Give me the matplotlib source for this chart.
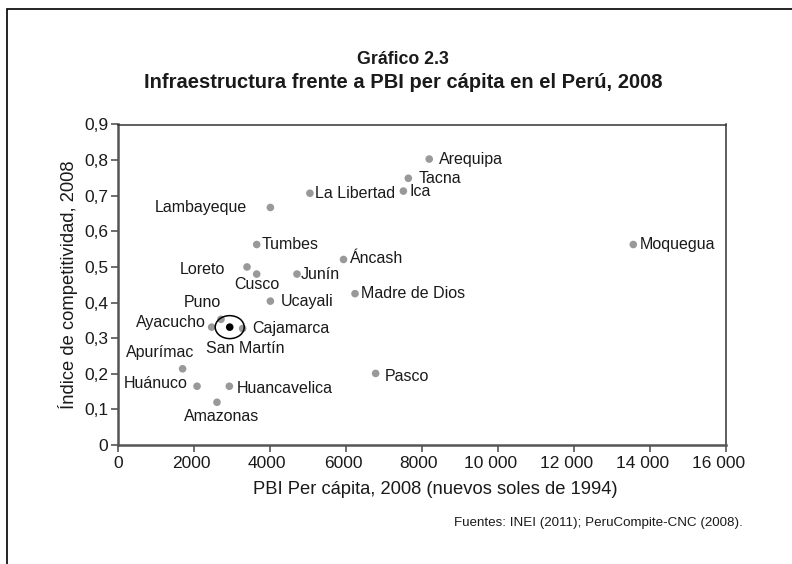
import matplotlib
matplotlib.use("Agg")
import matplotlib.pyplot as plt
from matplotlib.patches import Ellipse, Rectangle
from matplotlib.ticker import FixedLocator, FuncFormatter
from matplotlib.transforms import ScaledTranslation

plt.rcParams['font.family'] = ['Liberation Sans', 'DejaVu Sans']

# ---- data ----
regions = ["Arequipa", "Tacna", "Ica", "La Libertad", "Lambayeque", "Tumbes",
           "Áncash", "Moquegua", "Loreto", "Cusco", "Junín", "Madre de Dios",
           "Ucayali", "Puno", "Ayacucho", "San Martín", "Cajamarca", "Apurímac",
           "Huánuco", "Huancavelica", "Amazonas", "Pasco"]
pbi_pc = [8190, 7640, 7510, 5050, 4010, 3650,
          5935, 13560, 3395, 3650, 4710, 6237,
          4010, 2710, 2465, 2940, 3280, 1700,
          2080, 2930, 2605, 6780]
competitividad = [0.803, 0.749, 0.713, 0.707, 0.667, 0.563,
                  0.521, 0.563, 0.500, 0.480, 0.480, 0.425,
                  0.404, 0.353, 0.331, 0.331, 0.327, 0.214,
                  0.165, 0.165, 0.120, 0.201]
highlight = "San Martín"

x_ticks = [0, 2000, 4000, 6000, 8000, 10000, 12000, 14000, 16000]
y_ticks = [0, 0.1, 0.2, 0.3, 0.4, 0.5, 0.6, 0.7, 0.8, 0.9]

title_1 = "Gráfico 2.3"
title_2 = "Infraestructura frente a PBI per cápita en el Perú, 2008"
x_label = "PBI Per cápita, 2008 (nuevos soles de 1994)"
y_label = "Índice de competitividad, 2008"
source = "Fuentes: INEI (2011); PeruCompite-CNC (2008)."

# label placement (pixel offsets, alignment) -- styling only
label_pos = {
    "Arequipa": (10, 0, "left", "center"),
    "Tacna": (10, 0, "left", "center"),
    "Ica": (6, 0, "left", "center"),
    "La Libertad": (5, 0, "left", "center"),
    "Lambayeque": (-23, 0, "right", "center"),
    "Tumbes": (5, 0, "left", "center"),
    "Áncash": (6, 1, "left", "center"),
    "Moquegua": (6, 0, "left", "center"),
    "Loreto": (-22, -3, "right", "center"),
    "Cusco": (0, -10, "center", "center"),
    "Junín": (4, 0, "left", "center"),
    "Madre de Dios": (6, 0, "left", "center"),
    "Ucayali": (10, 0, "left", "center"),
    "Puno": (0, 17, "right", "center"),
    "Ayacucho": (-6, 5, "right", "center"),
    "San Martín": (16, -21, "center", "center"),
    "Cajamarca": (10, 0, "left", "center"),
    "Apurímac": (12, 16, "right", "center"),
    "Huánuco": (-9, 3, "right", "center"),
    "Huancavelica": (7, -2, "left", "center"),
    "Amazonas": (5, -14, "center", "center"),
    "Pasco": (9, -3, "left", "center"),
}

W, H = 792, 564
fig = plt.figure(figsize=(W / 100, H / 100), dpi=100)
fig.patch.set_facecolor("white")

# outer frame (partially visible)
fig.add_artist(Rectangle((6.5 / W, -0.2), 1.5, 1 + 0.2 - 9 / H,
                         transform=fig.transFigure, fill=False,
                         edgecolor="black", linewidth=1.2))

ax = fig.add_axes([118 / W, 1 - 445 / H, (726 - 118) / W, (445 - 124.5) / H])

txt_color = "#1a1a1a"
colors = ["black" if r == highlight else "#999999" for r in regions]
ax.scatter(pbi_pc, competitividad, s=30, c=colors, edgecolors="none", zorder=3)

for r, x, y in zip(regions, pbi_pc, competitividad):
    dx, dy, ha, va = label_pos[r]
    ax.annotate(r, (x, y), xytext=(dx, dy), textcoords="offset pixels",
                ha=ha, va=va, fontsize=11.5, color=txt_color)
    if r == highlight:
        ax.add_patch(Ellipse((x, y), width=29 / 38 * 1000, height=23 / 356.7,
                             fill=False, edgecolor="black", linewidth=1.1,
                             zorder=4))

ax.set_xlim(0, 16000)
ax.set_ylim(0, 0.9)
ax.xaxis.set_major_locator(FixedLocator(x_ticks))
ax.yaxis.set_major_locator(FixedLocator(y_ticks))


def fmt_x(v, pos):
    v = int(round(v))
    if v >= 10000:
        return f"{v:,}".replace(",", " ")
    return str(v)


def fmt_y(v, pos):
    if abs(v) < 1e-9:
        return "0"
    return f"{v:.1f}".replace(".", ",")


ax.xaxis.set_major_formatter(FuncFormatter(fmt_x))
ax.yaxis.set_major_formatter(FuncFormatter(fmt_y))
ax.tick_params(axis="both", direction="out", length=5, width=1.2,
               color="#555555", labelsize=12.5, labelcolor=txt_color)
ax.tick_params(axis="x", pad=3)
ax.tick_params(axis="y", pad=2)

# slight leftward shift of the longer x tick labels, as in the reference
fig.canvas.draw()
for lab in ax.get_xticklabels():
    n = len(lab.get_text().replace(" ", ""))
    shift = 0 if n <= 1 else (-3 if n == 4 else -7)
    lab.set_transform(lab.get_transform() +
                      ScaledTranslation(shift / 100, 0, fig.dpi_scale_trans))

for side in ["left", "bottom"]:
    ax.spines[side].set_color("#555555")
    ax.spines[side].set_linewidth(1.8)
for side in ["top", "right"]:
    ax.spines[side].set_color("#333333")
    ax.spines[side].set_linewidth(1.1)

ax.set_xlabel(x_label, fontsize=13.2, color=txt_color)
ax.xaxis.set_label_coords((435 - 118) / (726 - 118), -(490 - 445) / (445 - 124.5))
ax.xaxis.label.set_va("center")
ax.set_ylabel(y_label, fontsize=13.2, color=txt_color)
ax.yaxis.set_label_coords(-(118 - 68) / (726 - 118), 0.5)
ax.yaxis.label.set_va("center")

fig.text(403 / W, 1 - 60 / H, title_1, ha="center", va="center",
         fontsize=12.8, fontweight="bold", color=txt_color)
fig.text(403 / W, 1 - 83 / H, title_2, ha="center", va="center",
         fontsize=14.5, fontweight="bold", color=txt_color)
fig.text(743 / W, 1 - 523 / H, source, ha="right", va="center",
         fontsize=9.6, color=txt_color)

fig.savefig("out.png", dpi=100, facecolor="white")
